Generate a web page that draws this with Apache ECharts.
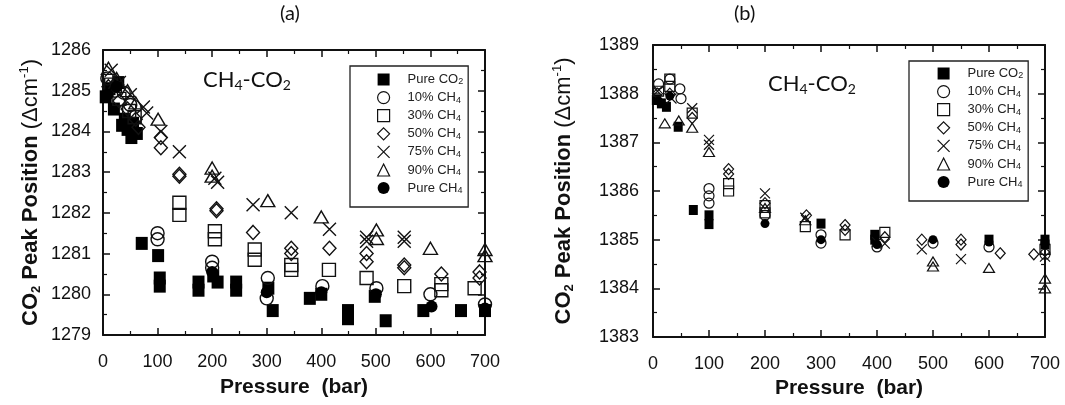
<!DOCTYPE html>
<html><head><meta charset="utf-8">
<script src="https://cdn.jsdelivr.net/npm/echarts@6/dist/echarts.min.js"></script>
<style>html,body{margin:0;padding:0;background:#fff}#c{width:1065px;height:405px}</style>
</head><body><div id="c"></div>
<script>
// ---------- data (pressure bar, peak position cm-1) ----------
const seriesNames = ['Pure CO2','10% CH4','30% CH4','50% CH4','75% CH4','90% CH4','Pure CH4'];
const xTickLabels = [0,100,200,300,400,500,600,700];
const aYRange = [1279, 1286];
const bYRange = [1383, 1389];

// Panel (a)
const aPureCO2 = [[5,1284.85],[12,1285.05],[20,1284.55],[28,1285.2],[35,1284.15],[45,1284.05],[55,1284.2],[62,1283.95],[40,1284.3],[52,1283.85],
  [71,1281.25],[101,1280.95],[104,1280.4],[104,1280.2],[175,1280.3],[175,1280.1],[202,1280.45],[210,1280.3],[244,1280.3],[244,1280.1],
  [303,1280.15],[311,1279.6],[379,1279.9],[400,1280.0],[449,1279.6],[449,1279.4],[498,1279.95],[518,1279.35],[587,1279.6],[656,1279.6],[700,1279.6]];
const aCirc10 = [[8,1285.3],[22,1285.0],[38,1284.95],[50,1284.65],[100,1281.5],[100,1281.35],[200,1280.8],[200,1280.65],[302,1280.4],[300,1279.9],
  [402,1280.2],[501,1280.15],[600,1280.0],[700,1279.75]];
const aSq30 = [[15,1285.15],[30,1284.8],[48,1284.5],[58,1284.35],[140,1282.25],[140,1281.95],[205,1281.55],[205,1281.35],[278,1281.1],[278,1280.85],
  [345,1280.72],[345,1280.6],[414,1280.6],[483,1280.4],[552,1280.2],[620,1280.25],[620,1280.1],[681,1280.15]];
const aDia50 = [[10,1285.1],[30,1284.75],[45,1284.55],[60,1284.3],[65,1284.1],[106,1283.85],[106,1283.6],[140,1282.9],[140,1282.95],[208,1282.05],[208,1282.1],
  [275,1281.52],[345,1281.13],[345,1281.0],[415,1281.13],[483,1281.0],[483,1280.8],[552,1280.72],[552,1280.65],[620,1280.5],[690,1280.55],[690,1280.4]];
const aX75 = [[15,1285.5],[30,1285.2],[50,1284.9],[74,1284.6],[80,1284.45],[106,1284.0],[140,1283.5],[205,1282.85],[210,1282.75],[275,1282.2],
  [345,1282.0],[415,1281.6],[483,1281.4],[483,1281.3],[552,1281.4],[552,1281.3]];
const aTri90 = [[10,1285.55],[25,1285.3],[45,1285.0],[60,1284.7],[101,1284.3],[200,1283.1],[200,1282.9],[302,1282.3],[400,1281.9],[501,1281.58],[501,1281.37],
  [600,1281.13],[700,1281.1],[700,1280.95]];
const aCH4 = [[8,1284.9],[25,1285.1],[200,1280.55],[300,1280.05],[400,1280.05],[500,1280.0],[602,1279.7],[700,1279.65]];

// Panel (b)
const bPureCO2 = [[6,1387.87],[15,1387.8],[24,1387.73],[45,1387.32],[72,1385.61],[100,1385.5],[100,1385.32],[300,1385.33],[396,1385.1],[396,1385.0],[600,1385.0],[700,1385.0],[700,1384.9]];
const bCirc10 = [[10,1388.2],[30,1388.3],[48,1388.1],[50,1387.9],[100,1386.05],[100,1385.9],[100,1385.75],[200,1385.5],[300,1385.1],[300,1384.93],[400,1384.85],[500,1384.93],[600,1384.85],[700,1384.7]];
const bSq30 = [[10,1388.05],[30,1388.3],[30,1388.15],[70,1387.6],[135,1386.15],[135,1386.0],[200,1385.7],[200,1385.55],[272,1385.27],[343,1385.1],[414,1385.15],[700,1384.8]];
const bDia50 = [[8,1388.0],[30,1388.0],[70,1387.5],[135,1386.45],[135,1386.35],[200,1385.75],[274,1385.5],[343,1385.3],[343,1385.2],[414,1385.05],[480,1385.0],[550,1385.0],[550,1384.9],[620,1384.72],[680,1384.7]];
const bX75 = [[8,1388.05],[33,1387.9],[70,1387.7],[100,1387.05],[100,1386.95],[200,1385.95],[272,1385.45],[400,1384.95],[414,1384.92],[480,1384.8],[550,1384.6],[700,1384.65]];
const bTri90 = [[21,1387.39],[46,1387.45],[70,1387.3],[100,1386.8],[200,1385.65],[272,1385.4],[500,1384.55],[500,1384.45],[600,1384.42],[700,1384.2],[700,1384.0]];
const bCH4 = [[10,1387.85],[30,1387.95],[200,1385.33],[300,1385.0],[400,1384.9],[500,1385.0],[600,1384.95],[700,1384.9]];

const aData = [aPureCO2,aCirc10,aSq30,aDia50,aX75,aTri90,aCH4];
const bData = [bPureCO2,bCirc10,bSq30,bDia50,bX75,bTri90,bCH4];

// ---------- styles ----------
const CROSS = 'path://M0,0L10,10M10,0L0,10';
const symbolDefs = [
  {symbol:'rect', filled:true},
  {symbol:'circle', filled:false},
  {symbol:'rect', filled:false},
  {symbol:'diamond', filled:false},
  {symbol:CROSS, filled:false},
  {symbol:'triangle', filled:false},
  {symbol:'circle', filled:true}
];
const aSizes = [[12,13],13,[13,13],[13,14],13,[14,12],12];
const bSizes = [[9,10],10,[10,10],[10,11],10,[11,9],9];
const openStyleA = {color:'rgba(0,0,0,0)', borderColor:'#111', borderWidth:1.4, opacity:1};
const openStyleB = {color:'rgba(0,0,0,0)', borderColor:'#111', borderWidth:1.2, opacity:1};
const fillStyle = {color:'#000', borderWidth:0, opacity:1};

const FONT = 'Liberation Sans';
function xAxisCfg(gridIndex, top, nameGap){
  return {
    type:'value', gridIndex, min:0, max:700, interval:100, position: top?'top':'bottom',
    axisLine:{show:true, onZero:false, lineStyle:{color:'#111', width:2}},
    axisTick:{show:true, inside:true, length:7, lineStyle:{color:'#111', width:1.5}},
    minorTick:{show:true, splitNumber:2, length:4, lineStyle:{color:'#111', width:1.2}},
    splitLine:{show:false},
    axisLabel:{show:!top, fontFamily:FONT, fontSize:18, color:'#111', margin:18, formatter:v=>String(v)},
    name: top ? '' : 'Pressure  (bar)', nameLocation:'middle', nameGap: nameGap,
    nameTextStyle:{fontFamily:FONT, fontSize:21, fontWeight:'bold', color:'#111'}
  };
}
function yAxisCfg(gridIndex, right, range, nameGap, margin){
  return {
    type:'value', gridIndex, min:range[0], max:range[1], interval:1, position: right?'right':'left',
    axisLine:{show:true, onZero:false, lineStyle:{color:'#111', width:2}},
    axisTick:{show:true, inside:true, length:7, lineStyle:{color:'#111', width:1.5}},
    minorTick:{show:true, splitNumber:2, length:4, lineStyle:{color:'#111', width:1.2}},
    splitLine:{show:false},
    axisLabel:{show:!right, fontFamily:FONT, fontSize:18, color:'#111', margin:margin, formatter:v=>String(v)},
    name: right ? '' : '{b|CO}{bs|2}{b| Peak Position }{r|(Δcm}{rs|-1}{r|)}',
    nameLocation:'middle', nameRotate:90, nameGap:nameGap,
    nameTextStyle:{fontFamily:FONT, color:'#111', rich:{
      b:{fontFamily:FONT, fontSize:22, fontWeight:'bold', color:'#111', lineHeight:28},
      bs:{fontFamily:FONT, fontSize:13, fontWeight:'bold', color:'#111', lineHeight:13, verticalAlign:'bottom', padding:[0,0,2,0]},
      r:{fontFamily:FONT, fontSize:22, color:'#111', lineHeight:28},
      rs:{fontFamily:FONT, fontSize:13, color:'#111', lineHeight:13, verticalAlign:'top', padding:[1,0,0,0]}
    }}
  };
}

const series = [];
function addPanel(dataList, sizes, xIdx, yIdx, openStyle){
  dataList.forEach((d,i)=>{
    const def = symbolDefs[i];
    series.push({
      type:'scatter', name: seriesNames[i], xAxisIndex:xIdx, yAxisIndex:yIdx,
      data:d, symbol:def.symbol, symbolSize:sizes[i],
      itemStyle: def.filled ? fillStyle : openStyle,
      emphasis:{disabled:true}, silent:true, animation:false
    });
  });
}
addPanel(aData, aSizes, 0, 0, openStyleA);
addPanel(bData, bSizes, 2, 2, openStyleB);

function legendFormatter(name){
  const m = name.match(/^(.*?)(\d)$/);
  return '{n|' + m[1] + '}{s|' + m[2] + '}';
}
function legendCfg(left, top, padding){
  return {
    orient:'vertical', left, top, padding,
    borderColor:'#222', borderWidth:1.3, borderRadius:0,
    itemWidth:12, itemHeight:12, itemGap:4.5,
    selectedMode:false,
    data: seriesNames.map((n,i)=>({name:n, icon:symbolDefs[i].symbol,
      itemStyle: symbolDefs[i].filled ? fillStyle : openStyleB})),
    formatter: legendFormatter,
    textStyle:{fontFamily:FONT, color:'#222', padding:[0,0,0,13], rich:{
      n:{fontFamily:FONT, fontSize:13, color:'#222', lineHeight:14},
      s:{fontFamily:FONT, fontSize:9, color:'#222', lineHeight:9, verticalAlign:'bottom', padding:[0,0,0,0]}
    }}
  };
}

const annRich = {
  m:{fontFamily:'Lato', fontSize:22, fontWeight:'normal', color:'#111', lineHeight:24},
  s:{fontFamily:'Lato', fontSize:14, fontWeight:'normal', color:'#111', lineHeight:13, verticalAlign:'bottom'}
};

const option = {
  backgroundColor:'#fff',
  animation:false,
  title:[
    {text:'(a)', left:280, top:4, padding:0, textStyle:{fontFamily:'Lato', fontSize:20, fontWeight:'normal', color:'#111'}},
    {text:'(b)', left:734, top:4, padding:0, textStyle:{fontFamily:'Lato', fontSize:20, fontWeight:'normal', color:'#111'}},
    {text:'{m|CH}{s|4}{m|-CO}{s|2}', left:203, top:68, padding:0, textStyle:{fontWeight:'normal', rich:annRich}},
    {text:'{m|CH}{s|4}{m|-CO}{s|2}', left:768, top:72, padding:0, textStyle:{fontWeight:'normal', rich:annRich}}
  ],
  grid:[
    {left:103, top:50, width:382, height:285, outerBoundsMode:'none'},
    {left:653, top:45, width:392, height:292, outerBoundsMode:'none'}
  ],
  xAxis:[ xAxisCfg(0,false,42), xAxisCfg(0,true,0), xAxisCfg(1,false,40), xAxisCfg(1,true,0) ],
  yAxis:[ yAxisCfg(0,false,aYRange,58,12), yAxisCfg(0,true,aYRange,0,12), yAxisCfg(1,false,bYRange,75,14), yAxisCfg(1,true,bYRange,0,14) ],
  legend:[ legendCfg(350,66,[7,5,12,27]), legendCfg(909,61,[6,5,12,28]) ],
  series
};
const chart = echarts.init(document.getElementById('c'), null, {renderer:'canvas'});
chart.setOption(option);
</script></body></html>
